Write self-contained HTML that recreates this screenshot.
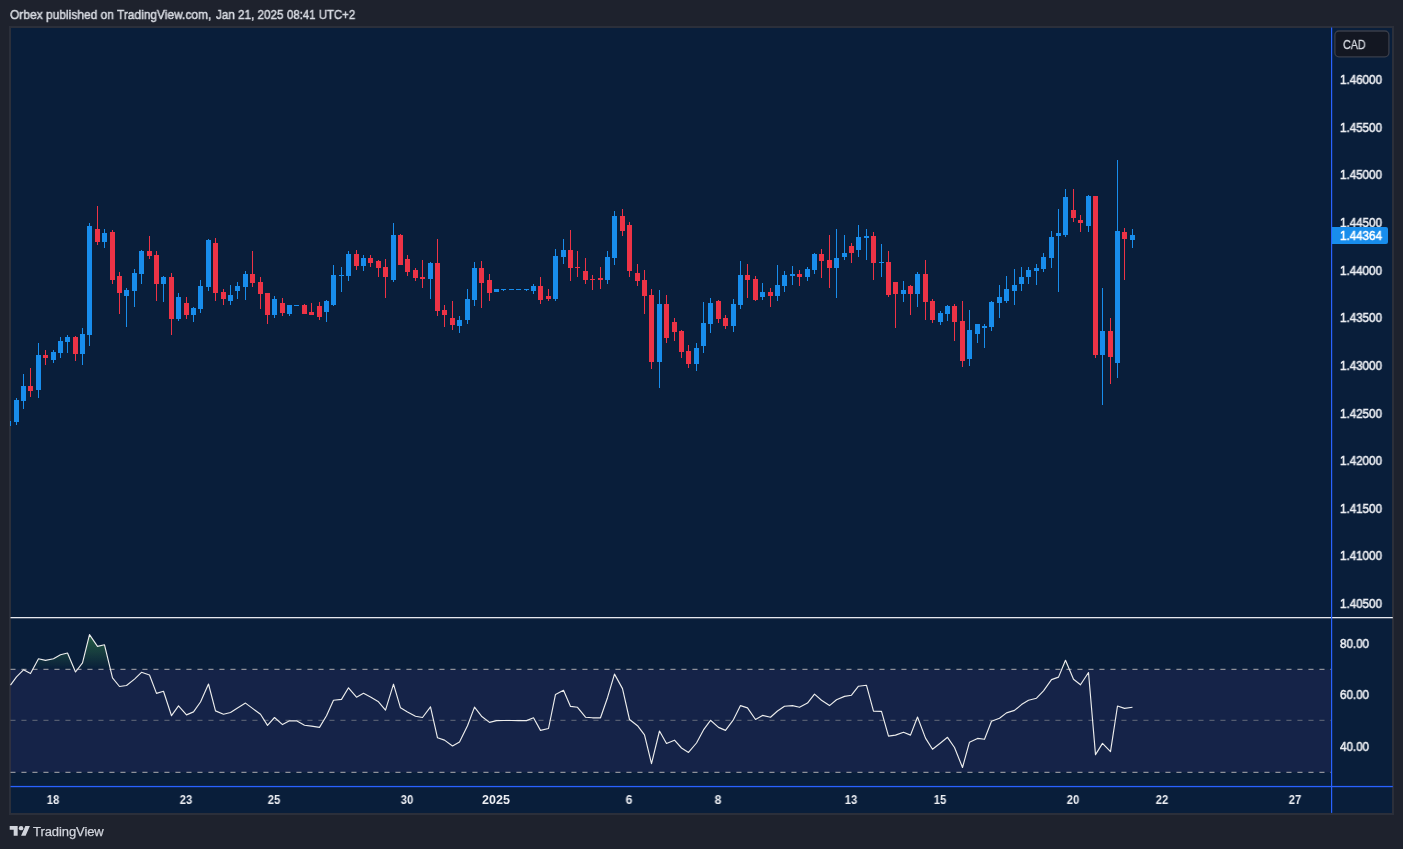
<!DOCTYPE html>
<html><head><meta charset="utf-8"><title>chart</title>
<style>
html,body{margin:0;padding:0;background:#1e222d;}
body{width:1403px;height:849px;position:relative;overflow:hidden;font-family:"Liberation Sans",sans-serif;}
.t{position:absolute;white-space:nowrap;color:#eceef3;font-size:12px;line-height:14px;will-change:transform;}
.hdr{left:10px;top:6.5px;font-size:13px;line-height:16px;color:#d6d9e0;-webkit-text-stroke:0.5px #d6d9e0;transform-origin:0 50%;}
.pl{left:1339.6px;font-size:12px;-webkit-text-stroke:0.5px #eceef3;transform-origin:0 50%;transform:scaleX(0.968)}
.dl{font-weight:bold;font-size:12.5px;}
.frame{position:absolute;left:9px;top:26px;width:1384.5px;height:788.6px;background:#2b2f3a;}
.chart{position:absolute;left:10.5px;top:27.5px;width:1381.5px;height:785.4px;background:#091e3a;}
svg{position:absolute;left:0;top:0;}
</style></head><body>
<div class="t hdr" style="left:9.6px;transform:scaleX(0.922)">Orbex published on</div>
<div class="t hdr" style="left:117.3px;transform:scaleX(0.918)">TradingView.com,</div>
<div class="t hdr" style="left:215.8px;transform:scaleX(0.897)">Jan 21, 2025</div>
<div class="t hdr" style="left:287.2px;transform:scaleX(0.878)">08:41 UTC+2</div>
<div class="frame"></div><div class="chart"></div>
<svg width="1403" height="849" viewBox="0 0 1403 849">
<defs>
<linearGradient id="og" gradientUnits="userSpaceOnUse" x1="0" y1="592" x2="0" y2="669.4">
<stop offset="0" stop-color="#4caf50" stop-opacity="1"/><stop offset="1" stop-color="#4caf50" stop-opacity="0"/>
</linearGradient>
<clipPath id="cp70"><rect x="10.5" y="618" width="1320.5" height="51.39999999999998"/></clipPath>
</defs>
<!-- rsi band -->
<rect x="10.5" y="669.4" width="1320.5" height="102.89999999999998" fill="#7e57c2" fill-opacity="0.1"/>
<path d="M10.5,685.2 L16.5,676.9 L23.5,669.8 L30.5,673.6 L38.5,658.8 L45.5,660.4 L53.5,658.8 L60.5,654.7 L67.5,653.0 L75.5,672.0 L82.5,662.9 L89.5,634.6 L97.5,646.4 L104.5,644.8 L112.5,677.8 L119.5,686.5 L126.5,685.5 L134.5,679.1 L141.5,672.3 L149.5,675.0 L156.5,693.4 L163.5,691.3 L171.5,715.7 L178.5,705.8 L186.5,714.9 L193.5,711.9 L200.5,702.0 L208.5,684.0 L215.5,710.9 L223.5,714.2 L230.5,712.5 L237.5,707.9 L245.5,703.1 L252.5,708.4 L260.5,714.2 L267.5,725.4 L274.5,717.5 L282.5,724.6 L289.5,720.8 L296.5,720.8 L304.5,725.2 L311.5,726.1 L319.5,727.4 L326.5,715.8 L333.5,700.2 L341.5,699.4 L348.5,687.8 L356.5,697.2 L363.5,693.3 L370.5,696.9 L378.5,701.8 L385.5,710.1 L393.5,684.2 L400.5,707.8 L407.5,712.1 L415.5,716.3 L422.5,717.5 L430.5,706.8 L437.5,737.8 L444.5,740.1 L452.5,746.0 L459.5,741.9 L467.5,725.7 L474.5,707.1 L481.5,716.2 L489.5,722.4 L496.5,720.6 L503.5,720.5 L511.5,720.5 L518.5,720.6 L526.5,720.6 L533.5,717.8 L540.5,730.4 L548.5,728.5 L555.5,694.4 L563.5,690.3 L570.5,706.4 L577.5,707.3 L585.5,717.2 L592.5,717.8 L600.5,717.8 L607.5,697.7 L614.5,674.1 L622.5,688.6 L629.5,719.5 L637.5,725.7 L644.5,734.8 L651.5,763.7 L659.5,731.0 L666.5,743.5 L674.5,740.2 L681.5,748.0 L688.5,752.4 L696.5,743.0 L703.5,729.9 L710.5,720.3 L718.5,727.4 L725.5,730.4 L733.5,719.6 L740.5,705.6 L747.5,707.9 L755.5,719.5 L762.5,715.4 L770.5,717.2 L777.5,711.0 L784.5,706.3 L792.5,705.6 L799.5,707.3 L807.5,703.1 L814.5,694.1 L821.5,700.2 L829.5,705.6 L836.5,699.7 L844.5,696.4 L851.5,695.2 L858.5,686.2 L866.5,685.3 L873.5,711.2 L881.5,711.4 L888.5,736.1 L895.5,735.1 L903.5,732.3 L910.5,735.1 L917.5,717.0 L925.5,738.1 L932.5,749.3 L940.5,743.0 L947.5,737.3 L954.5,747.5 L962.5,767.5 L969.5,742.2 L977.5,738.4 L984.5,739.3 L991.5,721.3 L999.5,718.3 L1006.5,712.9 L1014.5,710.4 L1021.5,704.6 L1028.5,700.2 L1036.5,698.2 L1043.5,690.8 L1051.5,679.6 L1058.5,677.1 L1065.5,660.3 L1073.5,679.2 L1080.5,684.8 L1088.5,672.5 L1095.5,754.6 L1102.5,743.4 L1110.5,751.6 L1117.5,706.0 L1124.5,708.4 L1132.5,707.3 L1132.5,669.4 L10.5,669.4 Z" fill="url(#og)" clip-path="url(#cp70)"/>
<line x1="10.5" x2="1331" y1="669.4" y2="669.4" stroke="#8d9099" stroke-width="1.15" stroke-dasharray="5.1 5.9" stroke-dashoffset="0.1"/>
<line x1="10.5" x2="1331" y1="720.4" y2="720.4" stroke="#787b86" stroke-opacity="0.65" stroke-width="1.15" stroke-dasharray="5.1 5.9" stroke-dashoffset="0.1"/>
<line x1="10.5" x2="1331" y1="772.3" y2="772.3" stroke="#8d9099" stroke-width="1.15" stroke-dasharray="5.1 5.9" stroke-dashoffset="0.1"/>
<polyline points="10.5,685.2 16.5,676.9 23.5,669.8 30.5,673.6 38.5,658.8 45.5,660.4 53.5,658.8 60.5,654.7 67.5,653.0 75.5,672.0 82.5,662.9 89.5,634.6 97.5,646.4 104.5,644.8 112.5,677.8 119.5,686.5 126.5,685.5 134.5,679.1 141.5,672.3 149.5,675.0 156.5,693.4 163.5,691.3 171.5,715.7 178.5,705.8 186.5,714.9 193.5,711.9 200.5,702.0 208.5,684.0 215.5,710.9 223.5,714.2 230.5,712.5 237.5,707.9 245.5,703.1 252.5,708.4 260.5,714.2 267.5,725.4 274.5,717.5 282.5,724.6 289.5,720.8 296.5,720.8 304.5,725.2 311.5,726.1 319.5,727.4 326.5,715.8 333.5,700.2 341.5,699.4 348.5,687.8 356.5,697.2 363.5,693.3 370.5,696.9 378.5,701.8 385.5,710.1 393.5,684.2 400.5,707.8 407.5,712.1 415.5,716.3 422.5,717.5 430.5,706.8 437.5,737.8 444.5,740.1 452.5,746.0 459.5,741.9 467.5,725.7 474.5,707.1 481.5,716.2 489.5,722.4 496.5,720.6 503.5,720.5 511.5,720.5 518.5,720.6 526.5,720.6 533.5,717.8 540.5,730.4 548.5,728.5 555.5,694.4 563.5,690.3 570.5,706.4 577.5,707.3 585.5,717.2 592.5,717.8 600.5,717.8 607.5,697.7 614.5,674.1 622.5,688.6 629.5,719.5 637.5,725.7 644.5,734.8 651.5,763.7 659.5,731.0 666.5,743.5 674.5,740.2 681.5,748.0 688.5,752.4 696.5,743.0 703.5,729.9 710.5,720.3 718.5,727.4 725.5,730.4 733.5,719.6 740.5,705.6 747.5,707.9 755.5,719.5 762.5,715.4 770.5,717.2 777.5,711.0 784.5,706.3 792.5,705.6 799.5,707.3 807.5,703.1 814.5,694.1 821.5,700.2 829.5,705.6 836.5,699.7 844.5,696.4 851.5,695.2 858.5,686.2 866.5,685.3 873.5,711.2 881.5,711.4 888.5,736.1 895.5,735.1 903.5,732.3 910.5,735.1 917.5,717.0 925.5,738.1 932.5,749.3 940.5,743.0 947.5,737.3 954.5,747.5 962.5,767.5 969.5,742.2 977.5,738.4 984.5,739.3 991.5,721.3 999.5,718.3 1006.5,712.9 1014.5,710.4 1021.5,704.6 1028.5,700.2 1036.5,698.2 1043.5,690.8 1051.5,679.6 1058.5,677.1 1065.5,660.3 1073.5,679.2 1080.5,684.8 1088.5,672.5 1095.5,754.6 1102.5,743.4 1110.5,751.6 1117.5,706.0 1124.5,708.4 1132.5,707.3" fill="none" stroke="#ececec" stroke-width="1.15" stroke-linejoin="round"/>
<rect x="16" y="398" width="1" height="27" fill="#188dec"/>
<rect x="14" y="400" width="5" height="22" fill="#188dec"/>
<rect x="23" y="374" width="1" height="35" fill="#188dec"/>
<rect x="21" y="386" width="5" height="15" fill="#188dec"/>
<rect x="30" y="368" width="1" height="29" fill="#ed3346"/>
<rect x="28" y="386" width="5" height="5" fill="#ed3346"/>
<rect x="38" y="343" width="1" height="55" fill="#188dec"/>
<rect x="36" y="355" width="5" height="35" fill="#188dec"/>
<rect x="45" y="350" width="1" height="15" fill="#ed3346"/>
<rect x="43" y="355" width="5" height="3" fill="#ed3346"/>
<rect x="53" y="350" width="1" height="13" fill="#188dec"/>
<rect x="51" y="352" width="5" height="8" fill="#188dec"/>
<rect x="60" y="337" width="1" height="21" fill="#188dec"/>
<rect x="58" y="341" width="5" height="12" fill="#188dec"/>
<rect x="67" y="335" width="1" height="18" fill="#188dec"/>
<rect x="65" y="337" width="5" height="5" fill="#188dec"/>
<rect x="75" y="336" width="1" height="25" fill="#ed3346"/>
<rect x="73" y="337" width="5" height="17" fill="#ed3346"/>
<rect x="82" y="328" width="1" height="37" fill="#188dec"/>
<rect x="80" y="334" width="5" height="20" fill="#188dec"/>
<rect x="89" y="223" width="1" height="123" fill="#188dec"/>
<rect x="87" y="226" width="5" height="109" fill="#188dec"/>
<rect x="97" y="206" width="1" height="39" fill="#ed3346"/>
<rect x="95" y="229" width="5" height="13" fill="#ed3346"/>
<rect x="104" y="229" width="1" height="19" fill="#188dec"/>
<rect x="102" y="233" width="5" height="9" fill="#188dec"/>
<rect x="112" y="230" width="1" height="54" fill="#ed3346"/>
<rect x="110" y="232" width="5" height="48" fill="#ed3346"/>
<rect x="119" y="272" width="1" height="42" fill="#ed3346"/>
<rect x="117" y="276" width="5" height="17" fill="#ed3346"/>
<rect x="126" y="288" width="1" height="39" fill="#188dec"/>
<rect x="124" y="290" width="5" height="6" fill="#188dec"/>
<rect x="134" y="269" width="1" height="38" fill="#188dec"/>
<rect x="132" y="273" width="5" height="18" fill="#188dec"/>
<rect x="141" y="250" width="1" height="34" fill="#188dec"/>
<rect x="139" y="251" width="5" height="23" fill="#188dec"/>
<rect x="149" y="236" width="1" height="23" fill="#ed3346"/>
<rect x="147" y="251" width="5" height="5" fill="#ed3346"/>
<rect x="156" y="251" width="1" height="50" fill="#ed3346"/>
<rect x="154" y="255" width="5" height="29" fill="#ed3346"/>
<rect x="163" y="276" width="1" height="26" fill="#188dec"/>
<rect x="161" y="277" width="5" height="7" fill="#188dec"/>
<rect x="171" y="273" width="1" height="62" fill="#ed3346"/>
<rect x="169" y="277" width="5" height="42" fill="#ed3346"/>
<rect x="178" y="293" width="1" height="28" fill="#188dec"/>
<rect x="176" y="297" width="5" height="22" fill="#188dec"/>
<rect x="186" y="297" width="1" height="22" fill="#ed3346"/>
<rect x="184" y="303" width="5" height="12" fill="#ed3346"/>
<rect x="193" y="307" width="1" height="15" fill="#188dec"/>
<rect x="191" y="308" width="5" height="7" fill="#188dec"/>
<rect x="200" y="280" width="1" height="33" fill="#188dec"/>
<rect x="198" y="286" width="5" height="23" fill="#188dec"/>
<rect x="208" y="239" width="1" height="52" fill="#188dec"/>
<rect x="206" y="240" width="5" height="47" fill="#188dec"/>
<rect x="215" y="238" width="1" height="63" fill="#ed3346"/>
<rect x="213" y="243" width="5" height="50" fill="#ed3346"/>
<rect x="223" y="289" width="1" height="16" fill="#ed3346"/>
<rect x="221" y="292" width="5" height="7" fill="#ed3346"/>
<rect x="230" y="285" width="1" height="20" fill="#188dec"/>
<rect x="228" y="295" width="5" height="6" fill="#188dec"/>
<rect x="237" y="282" width="1" height="17" fill="#188dec"/>
<rect x="235" y="286" width="5" height="5" fill="#188dec"/>
<rect x="245" y="271" width="1" height="29" fill="#188dec"/>
<rect x="243" y="274" width="5" height="13" fill="#188dec"/>
<rect x="252" y="251" width="1" height="36" fill="#ed3346"/>
<rect x="250" y="274" width="5" height="9" fill="#ed3346"/>
<rect x="260" y="277" width="1" height="32" fill="#ed3346"/>
<rect x="258" y="282" width="5" height="12" fill="#ed3346"/>
<rect x="267" y="293" width="1" height="31" fill="#ed3346"/>
<rect x="265" y="293" width="5" height="22" fill="#ed3346"/>
<rect x="274" y="296" width="1" height="22" fill="#188dec"/>
<rect x="272" y="299" width="5" height="16" fill="#188dec"/>
<rect x="282" y="298" width="1" height="18" fill="#ed3346"/>
<rect x="280" y="303" width="5" height="10" fill="#ed3346"/>
<rect x="289" y="305" width="1" height="11" fill="#188dec"/>
<rect x="287" y="305" width="5" height="9" fill="#188dec"/>
<rect x="296" y="305" width="1" height="1" fill="#188dec"/>
<rect x="294" y="305" width="5" height="1" fill="#188dec"/>
<rect x="304" y="304" width="1" height="10" fill="#ed3346"/>
<rect x="302" y="305" width="5" height="9" fill="#ed3346"/>
<rect x="311" y="303" width="1" height="12" fill="#ed3346"/>
<rect x="309" y="312" width="5" height="3" fill="#ed3346"/>
<rect x="319" y="302" width="1" height="18" fill="#ed3346"/>
<rect x="317" y="306" width="5" height="11" fill="#ed3346"/>
<rect x="326" y="300" width="1" height="22" fill="#188dec"/>
<rect x="324" y="301" width="5" height="11" fill="#188dec"/>
<rect x="333" y="265" width="1" height="41" fill="#188dec"/>
<rect x="331" y="275" width="5" height="30" fill="#188dec"/>
<rect x="341" y="267" width="1" height="25" fill="#188dec"/>
<rect x="339" y="275" width="5" height="1" fill="#188dec"/>
<rect x="348" y="251" width="1" height="30" fill="#188dec"/>
<rect x="346" y="254" width="5" height="22" fill="#188dec"/>
<rect x="356" y="250" width="1" height="20" fill="#ed3346"/>
<rect x="354" y="254" width="5" height="12" fill="#ed3346"/>
<rect x="363" y="255" width="1" height="16" fill="#188dec"/>
<rect x="361" y="258" width="5" height="8" fill="#188dec"/>
<rect x="370" y="255" width="1" height="12" fill="#ed3346"/>
<rect x="368" y="258" width="5" height="5" fill="#ed3346"/>
<rect x="378" y="260" width="1" height="17" fill="#ed3346"/>
<rect x="376" y="261" width="5" height="7" fill="#ed3346"/>
<rect x="385" y="259" width="1" height="39" fill="#ed3346"/>
<rect x="383" y="267" width="5" height="10" fill="#ed3346"/>
<rect x="393" y="223" width="1" height="59" fill="#188dec"/>
<rect x="391" y="235" width="5" height="45" fill="#188dec"/>
<rect x="400" y="234" width="1" height="31" fill="#ed3346"/>
<rect x="398" y="235" width="5" height="30" fill="#ed3346"/>
<rect x="407" y="255" width="1" height="21" fill="#ed3346"/>
<rect x="405" y="259" width="5" height="13" fill="#ed3346"/>
<rect x="415" y="268" width="1" height="13" fill="#ed3346"/>
<rect x="413" y="270" width="5" height="8" fill="#ed3346"/>
<rect x="422" y="260" width="1" height="28" fill="#ed3346"/>
<rect x="420" y="277" width="5" height="2" fill="#ed3346"/>
<rect x="430" y="262" width="1" height="37" fill="#188dec"/>
<rect x="428" y="263" width="5" height="16" fill="#188dec"/>
<rect x="437" y="239" width="1" height="77" fill="#ed3346"/>
<rect x="435" y="263" width="5" height="48" fill="#ed3346"/>
<rect x="444" y="305" width="1" height="22" fill="#ed3346"/>
<rect x="442" y="310" width="5" height="5" fill="#ed3346"/>
<rect x="452" y="301" width="1" height="29" fill="#ed3346"/>
<rect x="450" y="318" width="5" height="7" fill="#ed3346"/>
<rect x="459" y="316" width="1" height="17" fill="#188dec"/>
<rect x="457" y="320" width="5" height="6" fill="#188dec"/>
<rect x="467" y="289" width="1" height="35" fill="#188dec"/>
<rect x="465" y="299" width="5" height="21" fill="#188dec"/>
<rect x="474" y="262" width="1" height="44" fill="#188dec"/>
<rect x="472" y="268" width="5" height="32" fill="#188dec"/>
<rect x="481" y="261" width="1" height="47" fill="#ed3346"/>
<rect x="479" y="268" width="5" height="15" fill="#ed3346"/>
<rect x="489" y="274" width="1" height="27" fill="#ed3346"/>
<rect x="487" y="280" width="5" height="13" fill="#ed3346"/>
<rect x="496" y="289" width="1" height="3" fill="#188dec"/>
<rect x="494" y="289" width="5" height="3" fill="#188dec"/>
<rect x="503" y="289" width="1" height="2" fill="#188dec"/>
<rect x="501" y="289" width="5" height="1" fill="#188dec"/>
<rect x="511" y="289" width="1" height="1" fill="#188dec"/>
<rect x="509" y="289" width="5" height="1" fill="#188dec"/>
<rect x="518" y="289" width="1" height="1" fill="#188dec"/>
<rect x="516" y="289" width="5" height="1" fill="#188dec"/>
<rect x="526" y="289" width="1" height="2" fill="#188dec"/>
<rect x="524" y="289" width="5" height="1" fill="#188dec"/>
<rect x="533" y="284" width="1" height="10" fill="#188dec"/>
<rect x="531" y="286" width="5" height="5" fill="#188dec"/>
<rect x="540" y="277" width="1" height="27" fill="#ed3346"/>
<rect x="538" y="286" width="5" height="14" fill="#ed3346"/>
<rect x="548" y="289" width="1" height="12" fill="#ed3346"/>
<rect x="546" y="296" width="5" height="3" fill="#ed3346"/>
<rect x="555" y="249" width="1" height="52" fill="#188dec"/>
<rect x="553" y="256" width="5" height="43" fill="#188dec"/>
<rect x="563" y="239" width="1" height="25" fill="#188dec"/>
<rect x="561" y="250" width="5" height="7" fill="#188dec"/>
<rect x="570" y="230" width="1" height="51" fill="#ed3346"/>
<rect x="568" y="250" width="5" height="18" fill="#ed3346"/>
<rect x="577" y="251" width="1" height="26" fill="#ed3346"/>
<rect x="575" y="267" width="5" height="1" fill="#ed3346"/>
<rect x="585" y="258" width="1" height="26" fill="#ed3346"/>
<rect x="583" y="271" width="5" height="9" fill="#ed3346"/>
<rect x="592" y="275" width="1" height="15" fill="#ed3346"/>
<rect x="590" y="279" width="5" height="1" fill="#ed3346"/>
<rect x="600" y="267" width="1" height="22" fill="#ed3346"/>
<rect x="598" y="278" width="5" height="2" fill="#ed3346"/>
<rect x="607" y="251" width="1" height="33" fill="#188dec"/>
<rect x="605" y="257" width="5" height="23" fill="#188dec"/>
<rect x="614" y="211" width="1" height="54" fill="#188dec"/>
<rect x="612" y="216" width="5" height="42" fill="#188dec"/>
<rect x="622" y="209" width="1" height="27" fill="#ed3346"/>
<rect x="620" y="216" width="5" height="15" fill="#ed3346"/>
<rect x="629" y="222" width="1" height="55" fill="#ed3346"/>
<rect x="627" y="225" width="5" height="46" fill="#ed3346"/>
<rect x="637" y="264" width="1" height="22" fill="#ed3346"/>
<rect x="635" y="273" width="5" height="8" fill="#ed3346"/>
<rect x="644" y="270" width="1" height="44" fill="#ed3346"/>
<rect x="642" y="280" width="5" height="16" fill="#ed3346"/>
<rect x="651" y="289" width="1" height="80" fill="#ed3346"/>
<rect x="649" y="295" width="5" height="67" fill="#ed3346"/>
<rect x="659" y="290" width="1" height="98" fill="#188dec"/>
<rect x="657" y="304" width="5" height="58" fill="#188dec"/>
<rect x="666" y="295" width="1" height="48" fill="#ed3346"/>
<rect x="664" y="304" width="5" height="34" fill="#ed3346"/>
<rect x="674" y="318" width="1" height="23" fill="#ed3346"/>
<rect x="672" y="322" width="5" height="10" fill="#ed3346"/>
<rect x="681" y="330" width="1" height="28" fill="#ed3346"/>
<rect x="679" y="331" width="5" height="21" fill="#ed3346"/>
<rect x="688" y="345" width="1" height="23" fill="#ed3346"/>
<rect x="686" y="351" width="5" height="13" fill="#ed3346"/>
<rect x="696" y="343" width="1" height="28" fill="#188dec"/>
<rect x="694" y="348" width="5" height="16" fill="#188dec"/>
<rect x="703" y="302" width="1" height="51" fill="#188dec"/>
<rect x="701" y="323" width="5" height="23" fill="#188dec"/>
<rect x="710" y="298" width="1" height="35" fill="#188dec"/>
<rect x="708" y="303" width="5" height="21" fill="#188dec"/>
<rect x="718" y="300" width="1" height="23" fill="#ed3346"/>
<rect x="716" y="301" width="5" height="18" fill="#ed3346"/>
<rect x="725" y="315" width="1" height="14" fill="#ed3346"/>
<rect x="723" y="318" width="5" height="8" fill="#ed3346"/>
<rect x="733" y="299" width="1" height="33" fill="#188dec"/>
<rect x="731" y="304" width="5" height="22" fill="#188dec"/>
<rect x="740" y="261" width="1" height="48" fill="#188dec"/>
<rect x="738" y="275" width="5" height="30" fill="#188dec"/>
<rect x="747" y="264" width="1" height="34" fill="#ed3346"/>
<rect x="745" y="275" width="5" height="5" fill="#ed3346"/>
<rect x="755" y="276" width="1" height="25" fill="#ed3346"/>
<rect x="753" y="279" width="5" height="21" fill="#ed3346"/>
<rect x="762" y="283" width="1" height="17" fill="#188dec"/>
<rect x="760" y="292" width="5" height="5" fill="#188dec"/>
<rect x="770" y="288" width="1" height="19" fill="#ed3346"/>
<rect x="768" y="292" width="5" height="4" fill="#ed3346"/>
<rect x="777" y="265" width="1" height="36" fill="#188dec"/>
<rect x="775" y="285" width="5" height="11" fill="#188dec"/>
<rect x="784" y="271" width="1" height="21" fill="#188dec"/>
<rect x="782" y="275" width="5" height="11" fill="#188dec"/>
<rect x="792" y="266" width="1" height="19" fill="#188dec"/>
<rect x="790" y="274" width="5" height="2" fill="#188dec"/>
<rect x="799" y="270" width="1" height="16" fill="#ed3346"/>
<rect x="797" y="274" width="5" height="3" fill="#ed3346"/>
<rect x="807" y="267" width="1" height="14" fill="#188dec"/>
<rect x="805" y="269" width="5" height="8" fill="#188dec"/>
<rect x="814" y="253" width="1" height="21" fill="#188dec"/>
<rect x="812" y="254" width="5" height="16" fill="#188dec"/>
<rect x="821" y="249" width="1" height="29" fill="#ed3346"/>
<rect x="819" y="254" width="5" height="7" fill="#ed3346"/>
<rect x="829" y="235" width="1" height="53" fill="#ed3346"/>
<rect x="827" y="260" width="5" height="8" fill="#ed3346"/>
<rect x="836" y="229" width="1" height="69" fill="#188dec"/>
<rect x="834" y="258" width="5" height="10" fill="#188dec"/>
<rect x="844" y="235" width="1" height="25" fill="#188dec"/>
<rect x="842" y="253" width="5" height="4" fill="#188dec"/>
<rect x="851" y="243" width="1" height="20" fill="#ed3346"/>
<rect x="849" y="246" width="5" height="7" fill="#ed3346"/>
<rect x="858" y="225" width="1" height="32" fill="#188dec"/>
<rect x="856" y="237" width="5" height="13" fill="#188dec"/>
<rect x="866" y="229" width="1" height="31" fill="#188dec"/>
<rect x="864" y="236" width="5" height="2" fill="#188dec"/>
<rect x="873" y="232" width="1" height="48" fill="#ed3346"/>
<rect x="871" y="236" width="5" height="27" fill="#ed3346"/>
<rect x="881" y="244" width="1" height="33" fill="#188dec"/>
<rect x="879" y="262" width="5" height="1" fill="#188dec"/>
<rect x="888" y="251" width="1" height="46" fill="#ed3346"/>
<rect x="886" y="262" width="5" height="33" fill="#ed3346"/>
<rect x="895" y="282" width="1" height="46" fill="#ed3346"/>
<rect x="893" y="282" width="5" height="12" fill="#ed3346"/>
<rect x="903" y="281" width="1" height="21" fill="#188dec"/>
<rect x="901" y="290" width="5" height="4" fill="#188dec"/>
<rect x="910" y="285" width="1" height="30" fill="#ed3346"/>
<rect x="908" y="286" width="5" height="8" fill="#ed3346"/>
<rect x="917" y="272" width="1" height="35" fill="#188dec"/>
<rect x="915" y="274" width="5" height="20" fill="#188dec"/>
<rect x="925" y="260" width="1" height="60" fill="#ed3346"/>
<rect x="923" y="274" width="5" height="28" fill="#ed3346"/>
<rect x="932" y="299" width="1" height="24" fill="#ed3346"/>
<rect x="930" y="301" width="5" height="19" fill="#ed3346"/>
<rect x="940" y="311" width="1" height="14" fill="#188dec"/>
<rect x="938" y="313" width="5" height="9" fill="#188dec"/>
<rect x="947" y="305" width="1" height="16" fill="#188dec"/>
<rect x="945" y="306" width="5" height="8" fill="#188dec"/>
<rect x="954" y="304" width="1" height="37" fill="#ed3346"/>
<rect x="952" y="306" width="5" height="16" fill="#ed3346"/>
<rect x="962" y="301" width="1" height="66" fill="#ed3346"/>
<rect x="960" y="321" width="5" height="40" fill="#ed3346"/>
<rect x="969" y="310" width="1" height="56" fill="#188dec"/>
<rect x="967" y="330" width="5" height="29" fill="#188dec"/>
<rect x="977" y="324" width="1" height="19" fill="#188dec"/>
<rect x="975" y="324" width="5" height="10" fill="#188dec"/>
<rect x="984" y="324" width="1" height="24" fill="#188dec"/>
<rect x="982" y="326" width="5" height="2" fill="#188dec"/>
<rect x="991" y="301" width="1" height="30" fill="#188dec"/>
<rect x="989" y="302" width="5" height="25" fill="#188dec"/>
<rect x="999" y="285" width="1" height="33" fill="#188dec"/>
<rect x="997" y="297" width="5" height="6" fill="#188dec"/>
<rect x="1006" y="276" width="1" height="27" fill="#188dec"/>
<rect x="1004" y="289" width="5" height="12" fill="#188dec"/>
<rect x="1014" y="269" width="1" height="36" fill="#188dec"/>
<rect x="1012" y="285" width="5" height="6" fill="#188dec"/>
<rect x="1021" y="267" width="1" height="24" fill="#188dec"/>
<rect x="1019" y="277" width="5" height="7" fill="#188dec"/>
<rect x="1028" y="267" width="1" height="17" fill="#188dec"/>
<rect x="1026" y="270" width="5" height="7" fill="#188dec"/>
<rect x="1036" y="264" width="1" height="21" fill="#188dec"/>
<rect x="1034" y="268" width="5" height="3" fill="#188dec"/>
<rect x="1043" y="253" width="1" height="19" fill="#188dec"/>
<rect x="1041" y="257" width="5" height="12" fill="#188dec"/>
<rect x="1051" y="231" width="1" height="37" fill="#188dec"/>
<rect x="1049" y="237" width="5" height="21" fill="#188dec"/>
<rect x="1058" y="209" width="1" height="83" fill="#188dec"/>
<rect x="1056" y="233" width="5" height="3" fill="#188dec"/>
<rect x="1065" y="189" width="1" height="48" fill="#188dec"/>
<rect x="1063" y="197" width="5" height="38" fill="#188dec"/>
<rect x="1073" y="189" width="1" height="33" fill="#ed3346"/>
<rect x="1071" y="210" width="5" height="8" fill="#ed3346"/>
<rect x="1080" y="215" width="1" height="17" fill="#ed3346"/>
<rect x="1078" y="220" width="5" height="3" fill="#ed3346"/>
<rect x="1088" y="195" width="1" height="37" fill="#188dec"/>
<rect x="1086" y="196" width="5" height="30" fill="#188dec"/>
<rect x="1095" y="196" width="1" height="162" fill="#ed3346"/>
<rect x="1093" y="196" width="5" height="159" fill="#ed3346"/>
<rect x="1102" y="288" width="1" height="117" fill="#188dec"/>
<rect x="1100" y="331" width="5" height="24" fill="#188dec"/>
<rect x="1110" y="318" width="1" height="66" fill="#ed3346"/>
<rect x="1108" y="331" width="5" height="26" fill="#ed3346"/>
<rect x="1117" y="160" width="1" height="218" fill="#188dec"/>
<rect x="1115" y="231" width="5" height="132" fill="#188dec"/>
<rect x="1124" y="228" width="1" height="52" fill="#ed3346"/>
<rect x="1122" y="232" width="5" height="7" fill="#ed3346"/>
<rect x="1132" y="229" width="1" height="19" fill="#188dec"/>
<rect x="1130" y="235" width="5" height="5" fill="#188dec"/>
<rect x="10" y="421" width="1" height="5" fill="#188dec"/>
<!-- separators / axes -->
<rect x="10.5" y="617" width="1382.3" height="1.3" fill="#e6e8ee"/>
<rect x="1331" y="27.5" width="1.2" height="785.4" fill="#2962ff"/>
<rect x="10.5" y="785.9" width="1382.3" height="1.3" fill="#2962ff"/>
<!-- CAD box -->
<rect x="1334.9" y="31" width="54" height="25.8" rx="4" fill="#131722" stroke="#3a3e4a" stroke-width="1.3"/>
<!-- price label -->
<!-- logo -->
<g transform="translate(9.7,823.8) scale(0.569,0.545)" fill="#d1d4dc">
<path d="M14 22H7V11H0V4h14v18zM28 22h-8l7.5-18h8L28 22z"/><circle cx="20" cy="8" r="4"/>
</g>
</svg>
<div class="t" style="left:1342.8px;top:37.6px;font-size:12.5px;color:#d6d9e0;-webkit-text-stroke:0.3px #d6d9e0;transform-origin:0 50%;transform:scaleX(0.86)">CAD</div>
<div class="t pl" style="top:73.1px">1.46000</div>
<div class="t pl" style="top:120.7px">1.45500</div>
<div class="t pl" style="top:168.4px">1.45000</div>
<div class="t pl" style="top:216.0px">1.44500</div>
<div class="t pl" style="top:263.6px">1.44000</div>
<div class="t pl" style="top:311.3px">1.43500</div>
<div class="t pl" style="top:358.9px">1.43000</div>
<div class="t pl" style="top:406.5px">1.42500</div>
<div class="t pl" style="top:454.1px">1.42000</div>
<div class="t pl" style="top:501.8px">1.41500</div>
<div class="t pl" style="top:549.4px">1.41000</div>
<div class="t pl" style="top:597.0px">1.40500</div>
<div style="position:absolute;left:1332.2px;top:227px;width:55.8px;height:17px;background:#188dec;border-radius:0 2px 2px 0"></div>
<div class="t pl" style="top:229.0px;color:#fff;-webkit-text-stroke-color:#fff">1.44364</div>
<div class="t pl" style="top:637.1px">80.00</div>
<div class="t pl" style="top:688.3px">60.00</div>
<div class="t pl" style="top:739.7px">40.00</div>
<div class="t dl" style="left:52.9px;top:793.2px;transform:translateX(-50%) scaleX(0.9)">18</div>
<div class="t dl" style="left:185.5px;top:793.2px;transform:translateX(-50%) scaleX(0.9)">23</div>
<div class="t dl" style="left:274.3px;top:793.2px;transform:translateX(-50%) scaleX(0.9)">25</div>
<div class="t dl" style="left:407.4px;top:793.2px;transform:translateX(-50%) scaleX(0.9)">30</div>
<div class="t dl" style="left:496.1px;top:793.2px;transform:translateX(-50%) scaleX(1.0)">2025</div>
<div class="t dl" style="left:628.9px;top:793.2px;transform:translateX(-50%) scaleX(0.97)">6</div>
<div class="t dl" style="left:718.1px;top:793.2px;transform:translateX(-50%) scaleX(0.97)">8</div>
<div class="t dl" style="left:851.2px;top:793.2px;transform:translateX(-50%) scaleX(0.9)">13</div>
<div class="t dl" style="left:940.2px;top:793.2px;transform:translateX(-50%) scaleX(0.9)">15</div>
<div class="t dl" style="left:1072.7px;top:793.2px;transform:translateX(-50%) scaleX(0.9)">20</div>
<div class="t dl" style="left:1161.9px;top:793.2px;transform:translateX(-50%) scaleX(0.9)">22</div>
<div class="t dl" style="left:1294.6px;top:793.2px;transform:translateX(-50%) scaleX(0.9)">27</div>
<div class="t" style="left:32.8px;top:824.3px;font-size:13px;line-height:15px;color:#d1d4dc;-webkit-text-stroke:0.25px #d1d4dc;letter-spacing:-0.08px">TradingView</div>
</body></html>
